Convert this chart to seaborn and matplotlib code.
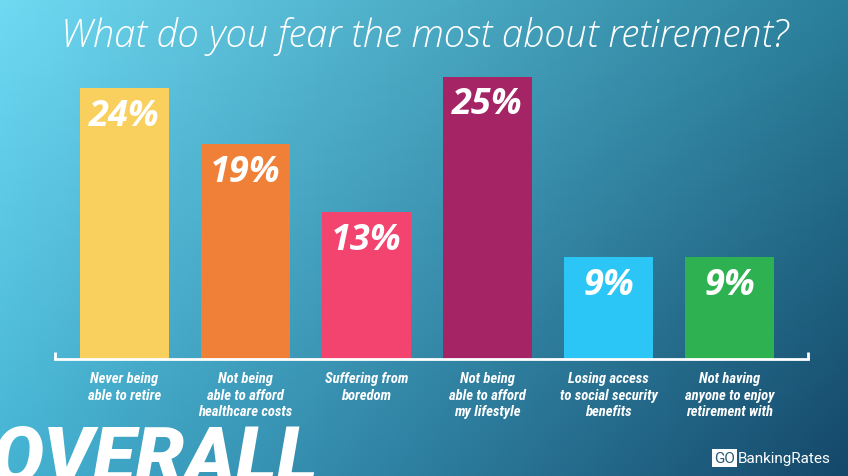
import numpy as np
import pandas as pd
import matplotlib
matplotlib.use("Agg")
import matplotlib.pyplot as plt
import seaborn as sns
from matplotlib import font_manager as fm

categories = ["Never being\nable to retire",
              "Not being\nable to afford\nhealthcare costs",
              "Suffering from\nboredom",
              "Not being\nable to afford\nmy lifestyle",
              "Losing access\nto social security\nbenefits",
              "Not having\nanyone to enjoy\nretirement with"]
values = [24, 19, 13, 25, 9, 9]
value_labels = ["24%", "19%", "13%", "25%", "9%", "9%"]
bar_colors = ["#f9cf5e", "#f07f38", "#f2446e", "#a42466", "#2bc6f5", "#2eb251"]

title = "What do you fear the most about retirement?"

sns.set_theme(style="white")
avail = {f.name for f in fm.fontManager.ttflist}
label_font = "Roboto Condensed" if "Roboto Condensed" in avail else "Roboto"
plt.rcParams['font.family'] = ['Open Sans', 'DejaVu Sans']

W, H = 848, 477
fig = plt.figure(figsize=(W / 100, H / 100), dpi=100)

# background gradient
bg = fig.add_axes([0, 0, 1, 1], zorder=0)
tl = np.array([0x6f, 0xd9, 0xf2]) / 255
tr = np.array([0x2a, 0x7f, 0x9a]) / 255
bl = np.array([0x45, 0xb3, 0xd3]) / 255
br = np.array([0x15, 0x48, 0x6a]) / 255
u = np.linspace(0, 1, 200)[None, :, None]
v = np.linspace(0, 1, 120)[:, None, None]
img = (1 - v) * ((1 - u) * tl + u * tr) + v * ((1 - u) * bl + u * br)
bg.imshow(img, extent=[0, 1, 0, 1], aspect="auto", origin="upper")
bg.set_xlim(0, 1); bg.set_ylim(0, 1)
bg.axis("off")

# main axes
ax_left, ax_right = 55 / W, 808 / W
ax_bottom, ax_top = (H - 360) / H, (H - 60) / H
ax = fig.add_axes([ax_left, ax_bottom, ax_right - ax_left, ax_top - ax_bottom], zorder=1)
ax.patch.set_alpha(0)

df = pd.DataFrame({"cat": categories, "val": values})
sns.barplot(data=df, x="cat", y="val", hue="cat", palette=bar_colors,
            width=0.735, saturation=1, legend=False, ax=ax, linewidth=0)

ax.set_xlim(-0.574, 5.649)
ax.set_ylim(0, 300 / 11.3)
ax.set_xlabel(""); ax.set_ylabel("")
ax.set_yticks([])
ax.tick_params(axis="x", length=0, pad=9)
for s in ["top", "right", "left"]:
    ax.spines[s].set_visible(False)
ax.spines["bottom"].set_color("white")
ax.spines["bottom"].set_linewidth(2)
ax.set_xticks(range(len(categories)))
ax.set_xticklabels(categories, color="white", fontsize=10.5, fontweight="bold",
                   fontstyle="italic", family=[label_font, "DejaVu Sans"],
                   linespacing=1.2, va="top")
# bracket ends
for xa in (0, 1):
    ax.plot([xa, xa], [0, 0.025], transform=ax.transAxes, color="white",
            lw=2, clip_on=False, solid_capstyle="butt")

for i, (val, lab) in enumerate(zip(values, value_labels)):
    ax.annotate(lab, (i, val), xytext=(0, -7), textcoords="offset points",
                ha="center", va="top", color="white", fontsize=26,
                fontweight="bold", fontstyle="italic")

fig.text(0.5, (H - 36) / H, title, ha="center", va="center", color="white",
         fontsize=27.5, fontstyle="italic", fontweight="light")

fig.text(-0.01, -0.045, "OVERALL", ha="left", va="bottom", color="white",
         fontsize=56, fontweight="heavy", fontstyle="italic",
         family=["Roboto", "DejaVu Sans"])

fig.text(714 / W, (H - 459) / H, "GO", ha="left", va="center", color="#2a5a75",
         fontsize=11, family=["Roboto", "DejaVu Sans"],
         bbox=dict(boxstyle="square,pad=0.12", fc="white", ec="none"))
fig.text(738 / W, (H - 459) / H, "BankingRates", ha="left", va="center",
         color="white", fontsize=11, family=["Roboto", "DejaVu Sans"])

fig.savefig("out.png", dpi=100)
